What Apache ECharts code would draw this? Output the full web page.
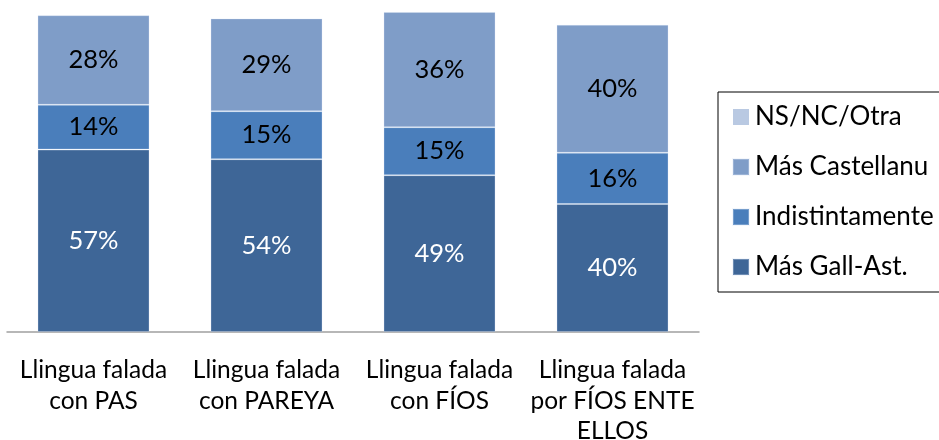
<!DOCTYPE html>
<html><head><meta charset="utf-8">
<script src="https://cdn.jsdelivr.net/npm/echarts@6/dist/echarts.min.js"></script>
<style>html,body{margin:0;padding:0;background:#fff}#c{width:939px;height:440px}</style>
</head><body><div id="c"></div>
<script>
const categories = ["Llingua falada\ncon PAS", "Llingua falada\ncon PAREYA", "Llingua falada\ncon FÍOS", "Llingua falada\npor FÍOS ENTE\nELLOS"];
const masGallAst = [57, 54, 49, 40];
const indistintamente = [14, 15, 15, 16];
const masCastellanu = [28, 29, 36, 40];
const nsNcOtra = [0, 0, 0, 0];
const seriesNames = ["Más Gall-Ast.", "Indistintamente", "Más Castellanu", "NS/NC/Otra"];
const colors = ["#3E6697", "#4A7EBB", "#7F9DC8", "#B9C9E2"];
const FONT = "Lato";

const chart = echarts.init(document.getElementById('c'), null, {renderer: 'canvas'});
function mk(name, data, color, labelColor, showLabel) {
  return {
    name: name, type: 'bar', stack: 'total', data: data, barWidth: 112,
    itemStyle: {color: color, borderColor: showLabel ? 'rgba(220,230,245,0.3)' : 'transparent', borderWidth: showLabel ? 1 : 0},
    label: {show: showLabel, position: 'inside', formatter: '{c}%', color: labelColor, fontFamily: FONT, fontSize: 25.5},
    emphasis: {disabled: true}
  };
}
chart.setOption({
  animation: false,
  color: colors,
  grid: {left: 7, right: 240, top: 12, bottom: 108, outerBoundsMode: 'none', containLabel: false},
  xAxis: {
    type: 'category', data: categories,
    axisLine: {lineStyle: {color: '#A0A0A0', width: 1.5}},
    axisTick: {show: false},
    axisLabel: {color: '#000', fontFamily: FONT, fontSize: 24.5, lineHeight: 30.5, margin: 23, interval: 0}
  },
  yAxis: {type: 'value', min: 0, max: 100, show: false, splitLine: {show: false}},
  legend: {
    orient: 'vertical', left: 718, top: 92, width: 260, height: 199,
    data: ["NS/NC/Otra", "Más Castellanu", "Indistintamente", "Más Gall-Ast."],
    itemWidth: 16, itemHeight: 16, itemGap: 24, icon: 'rect',
    padding: [12, 40, 12, 14],
    borderColor: '#000', borderWidth: 1,
    textStyle: {color: '#000', fontFamily: FONT, fontSize: 26, lineHeight: 26, padding: [0, 0, 0, 1]}
  },
  series: [
    mk(seriesNames[0], masGallAst, colors[0], '#fff', true),
    mk(seriesNames[1], indistintamente, colors[1], '#000', true),
    mk(seriesNames[2], masCastellanu, colors[2], '#000', true),
    mk(seriesNames[3], nsNcOtra, colors[3], '#000', false)
  ]
});
</script></body></html>
